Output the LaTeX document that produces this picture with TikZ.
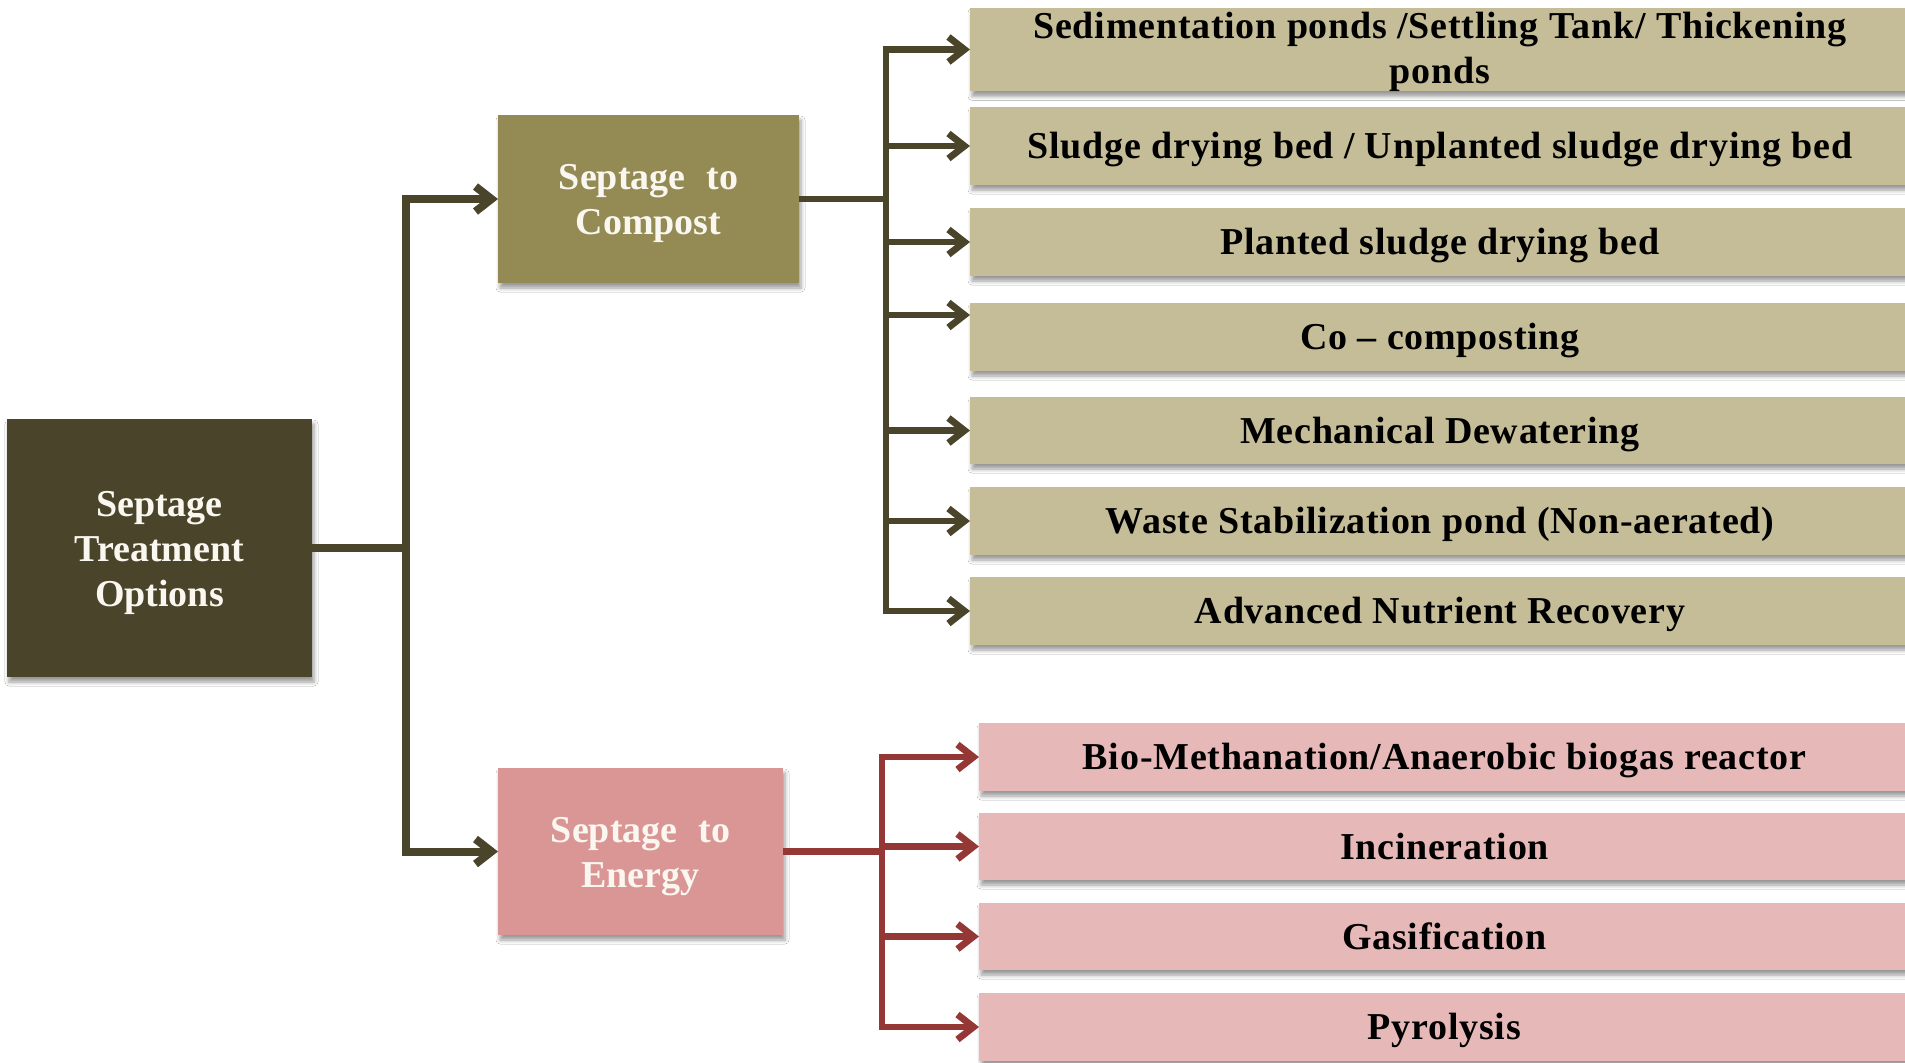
\documentclass[tikz,border=0pt]{standalone}
\usepackage{fontspec}
\setmainfont{Liberation Serif}
\newfontfamily\childfont[LetterSpace=2]{Liberation Serif}
\usetikzlibrary{arrows.meta,shadows.blur}
\definecolor{rootfill}{RGB}{74,69,42}
\definecolor{compfill}{RGB}{148,138,84}
\definecolor{compchild}{RGB}{196,189,151}
\definecolor{enfill}{RGB}{217,150,148}
\definecolor{enchild}{RGB}{230,185,184}
\definecolor{enline}{RGB}{149,55,53}
\definecolor{lighttext}{RGB}{250,247,240}
\newcommand{\topstrut}[1]{\rule{0pt}{#1}}
\tikzset{
  >={Straight Barb[length=8pt,width=12.5pt]},
  boxshadow/.style={blur shadow={shadow xshift=1pt, shadow yshift=-2.5pt, shadow blur radius=2pt, shadow opacity=40}},
  basebox/.style={rectangle, inner sep=0pt, outer sep=0pt, boxshadow, align=center,
    font=\fontsize{19}{22.5}\selectfont\bfseries},
  rootbox/.style={basebox, fill=rootfill, text=lighttext},
  compbox/.style={basebox, fill=compfill, text=lighttext},
  enbox/.style={basebox, fill=enfill, text=lighttext},
  childbase/.style={basebox, font=\fontsize{19}{22.5}\childfont\bfseries, text=black},
  oneline/.style={text height=16pt, text depth=3.4pt},
  cchild/.style={childbase, fill=compchild, minimum width=470pt},
  echild/.style={childbase, fill=enchild, minimum width=465.5pt},
  tline/.style={draw=rootfill, line width=4pt},
  cline/.style={draw=rootfill, line width=3.4pt},
  eline/.style={draw=enline, line width=3.4pt},
}
\begin{document}
\begin{tikzpicture}[x=0.5pt,y=-0.5pt]
\fill[white] (0,0) rectangle (1905,1062);
\useasboundingbox (0,0) rectangle (1905,1062);

% main boxes
\node[rootbox, minimum width=152.5pt, minimum height=129pt] (root) at (159.5,548) {\topstrut{17.5pt}Septage\\Treatment\\Options};
\node[compbox, minimum width=150.5pt, minimum height=84pt] (comp) at (648.5,199) {\topstrut{17pt}Septage\hspace{0.55em}to\\Compost};
\node[enbox, minimum width=142.5pt, minimum height=83.5pt] (en) at (640.5,851.5) {\topstrut{17.5pt}Septage\hspace{0.55em}to\\Energy};

% compost children
\node[cchild, minimum height=39.5pt] (c1) at (1440,49.5) {\topstrut{15.3pt}Sedimentation ponds /Settling Tank/ Thickening\\ponds};
\node[cchild, oneline, minimum height=39pt] (c2) at (1440,146) {Sludge drying bed / Unplanted sludge drying bed};
\node[cchild, oneline, minimum height=34pt] (c3) at (1440,242) {Planted sludge drying bed};
\node[cchild, oneline, minimum height=34pt] (c4) at (1440,337) {Co – composting};
\node[cchild, oneline, minimum height=33.5pt] (c5) at (1440,430.5) {Mechanical Dewatering};
\node[cchild, oneline, minimum height=34pt] (c6) at (1440,521) {Waste Stabilization pond (Non-aerated)};
\node[cchild, oneline, minimum height=34pt] (c7) at (1440,611) {Advanced Nutrient Recovery};

% energy children
\node[echild, oneline, minimum height=34pt] (e1) at (1444.5,757) {Bio-Methanation/Anaerobic biogas reactor};
\node[echild, oneline, minimum height=33.5pt] (e2) at (1444.5,846.5) {Incineration};
\node[echild, oneline, minimum height=33.5pt] (e3) at (1444.5,936.5) {Gasification};
\node[echild, oneline, minimum height=34pt] (e4) at (1444.5,1027) {Pyrolysis};

% trunk
\coordinate (tb) at (406,548);
\draw[tline] (root.east) -- (tb);
\draw[tline, <->] (comp.west) -- (tb |- comp.west) -- (tb |- en.west) -- (en.west);

% compost bus
\coordinate (cb) at (886,199);
\draw[cline] (comp.east) -- (cb);
\draw[cline, <->] (c7.west) -- (cb |- c7.west) -- (cb |- c1.west) -- (c1.west);
\draw[cline, ->] (cb |- c2.west) -- (c2.west);
\draw[cline, ->] (cb |- c3.west) -- (c3.west);
\draw[cline, ->] ([yshift=11pt]c4.west -| cb) -- ([yshift=11pt]c4.west);
\draw[cline, ->] (cb |- c5.west) -- (c5.west);
\draw[cline, ->] (cb |- c6.west) -- (c6.west);

% energy bus
\coordinate (eb) at (882,851.5);
\draw[eline] (en.east) -- (eb);
\draw[eline, <->] (e4.west) -- (eb |- e4.west) -- (eb |- e1.west) -- (e1.west);
\draw[eline, ->] (eb |- e2.west) -- (e2.west);
\draw[eline, ->] (eb |- e3.west) -- (e3.west);
\end{tikzpicture}
\end{document}
